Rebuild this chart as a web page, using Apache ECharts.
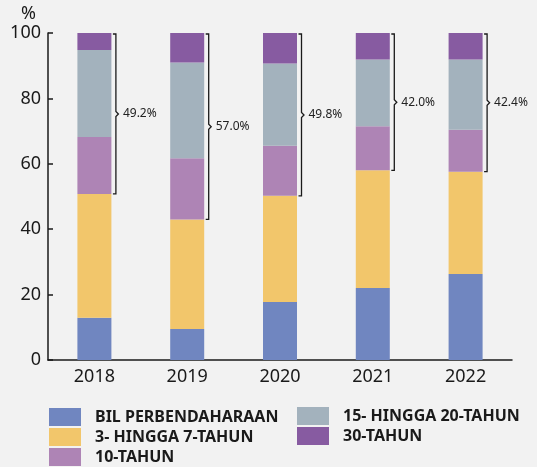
<!DOCTYPE html>
<html>
<head>
<meta charset="utf-8">
<script src="https://cdn.jsdelivr.net/npm/echarts@6/dist/echarts.min.js"></script>
<style>
  html, body { margin: 0; padding: 0; background: #f2f2f2; }
  #main { width: 537px; height: 467px; }
</style>
</head>
<body>
<div id="main"></div>
<script>
// data (share of total, %)
var years = ['2018', '2019', '2020', '2021', '2022'];
var bil = [12.9, 9.5, 17.7, 22.0, 26.3];
var hingga3to7 = [37.9, 33.5, 32.5, 36.0, 31.3];
var tahun10 = [17.4, 18.7, 15.3, 13.5, 12.8];
var hingga15to20 = [26.6, 29.3, 25.2, 20.4, 21.5];
var tahun30 = [5.2, 9.0, 9.3, 8.1, 8.1];
var bracketLabels = [49.2, 57.0, 49.8, 42.0, 42.4];
var yTicks = [0, 20, 40, 60, 80, 100];

var names = ['BIL PERBENDAHARAAN', '3- HINGGA 7-TAHUN', '10-TAHUN', '15- HINGGA 20-TAHUN', '30-TAHUN'];
var colors = ['#7086c0', '#f2c66b', '#ae84b5', '#a3b2bd', '#875ba1'];
var values = [bil, hingga3to7, tahun10, hingga15to20, tahun30];

var barSeries = values.map(function (v, i) {
    return {
        name: names[i],
        type: 'bar',
        stack: 'total',
        barWidth: 34,
        data: v,
        itemStyle: { color: colors[i] },
        emphasis: { disabled: true }
    };
});

var bracketData = bracketLabels.map(function (b, i) {
    return [i, 100, 100 - b, b];
});

var bracketSeries = {
    type: 'custom',
    data: bracketData,
    encode: { x: 0, y: [1, 2] },
    z: 5,
    renderItem: function (params, api) {
        var top = api.coord([api.value(0), api.value(1)]);
        var bot = api.coord([api.value(0), api.value(2)]);
        var x = top[0] + 21.5;
        var y1 = top[1] + 1, y2 = bot[1];
        var mid = (y1 + y2) / 2;
        return {
            type: 'group',
            children: [{
                type: 'polyline',
                shape: { points: [[x - 3, y1], [x, y1], [x, mid - 2.5], [x + 2.5, mid], [x, mid + 2.5], [x, y2], [x - 3, y2]] },
                style: { stroke: '#1a1a1a', lineWidth: 1.3, fill: null }
            }, {
                type: 'text',
                x: x + 7,
                y: mid,
                style: {
                    text: api.value(3).toFixed(1) + '%',
                    fontSize: 12,
                    fontFamily: 'Noto Sans',
                    fill: '#222',
                    verticalAlign: 'middle'
                }
            }]
        };
    }
};

var legendText = { fontSize: 16, fontWeight: 'bold', fontFamily: 'Noto Sans', color: '#1a1a1a', padding: [0, 0, 0, 9] };

var myChart = echarts.init(document.getElementById('main'));
myChart.setOption({
    backgroundColor: '#f2f2f2',
    animation: false,
    textStyle: { fontFamily: 'Noto Sans' },
    grid: { left: 48, right: 25, top: 33, bottom: 107 },
    graphic: [{
        type: 'text', left: 21, top: 5,
        style: { text: '%', fontSize: 18, fontFamily: 'Noto Sans', fill: '#1a1a1a' }
    }],
    legend: [{
        data: names.slice(0, 3),
        orient: 'vertical',
        left: 49, top: 408,
        padding: 0,
        itemWidth: 32, itemHeight: 18, itemGap: 2,
        icon: 'rect',
        selectedMode: false,
        textStyle: legendText
    }, {
        data: names.slice(3),
        orient: 'vertical',
        left: 297, top: 407,
        padding: 0,
        itemWidth: 32, itemHeight: 18, itemGap: 2,
        icon: 'rect',
        selectedMode: false,
        textStyle: legendText
    }],
    xAxis: {
        type: 'category',
        data: years,
        axisLine: { lineStyle: { color: '#1a1a1a', width: 1.5 } },
        axisTick: { show: false },
        axisLabel: { fontSize: 18, color: '#1a1a1a', margin: 8 }
    },
    yAxis: {
        type: 'value',
        min: yTicks[0],
        max: yTicks[yTicks.length - 1],
        interval: yTicks[1] - yTicks[0],
        axisLine: { show: true, lineStyle: { color: '#1a1a1a', width: 1.5 } },
        axisTick: { show: true, inside: true, length: 5, lineStyle: { color: '#1a1a1a', width: 1.5 } },
        splitLine: { show: false },
        axisLabel: { fontSize: 18, color: '#1a1a1a', margin: 7 }
    },
    series: barSeries.concat([bracketSeries])
});
</script>
</body>
</html>
